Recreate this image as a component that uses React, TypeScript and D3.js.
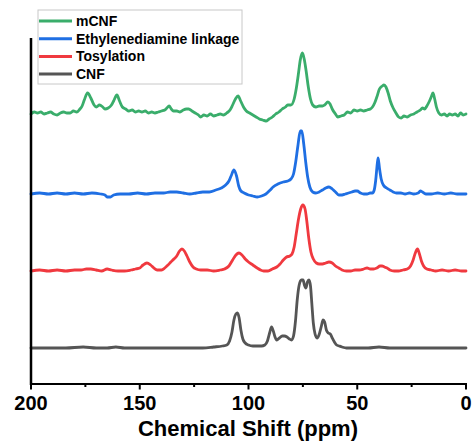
import React from "react";
import * as d3 from "d3";

// Data: [ppm, intensity above own baseline]
const seriesNames = ["mCNF", "Ethylenediamine linkage", "Tosylation", "CNF"];
const seriesColors = ["#3aad6b", "#1f6fe3", "#f0393f", "#555555"];
const seriesOffsets = [233, 154, 77, 0];

const mcnf: [number, number][] = [
  [200, 1], [198.5, 3], [197, 2], [195.5, 3], [194, 1], [192.5, 2], [191, 3], [189.5, 1], [188, 0], [186.5, 2],
  [185, 3], [183.5, 2], [182, 2], [180.5, 4], [179, 3], [177.5, 6], [176.5, 9], [175.5, 15], [174, 22], [172.5, 17],
  [171, 10], [170, 8], [168.5, 10], [167, 8], [166, 6], [164.5, 7], [163, 10], [162, 14], [160.5, 20], [159.3, 14],
  [158, 8], [156.5, 6], [155, 4], [153.5, 5], [152, 3], [150.5, 4], [149, 3], [147.5, 4], [146, 2], [144.5, 3],
  [143, 2], [141.5, 3], [140, 4], [138.5, 5], [137.5, 7], [136.5, 9], [135.5, 6], [134.5, 4], [133, 4], [131.5, 3],
  [130, 5], [128.5, 6], [127.5, 6], [126, 4], [124.5, 2], [123, 0], [122, -2], [120.5, 0], [119, -1], [117.5, 1],
  [116, -1], [114.5, 0], [113, 1], [111.5, 0], [110, 2], [108.5, 5], [107.3, 10], [106, 16], [104.8, 19], [103.6, 14],
  [102.3, 8], [101, 4], [99.5, 2], [98, 0], [96.5, -2], [95, -4], [93.5, -5], [92, -6], [90.5, -4], [89, -2],
  [87.5, 1], [86, 3], [84.5, 6], [83, 8], [82, 10], [80.5, 10], [79, 16], [78, 27], [77, 42], [76.2, 55],
  [75.2, 62], [74.3, 55], [73.5, 44], [72.5, 28], [71.5, 16], [70.5, 10], [69, 8], [67.5, 9], [66, 9], [65, 10],
  [63.5, 13], [62.5, 11], [61.5, 6], [60, 1], [59, -2], [57.5, -1], [56, 0], [54.5, 3], [53, 2], [51.5, 5],
  [50, 4], [48.5, 5], [47, 4], [45.5, 5], [44, 6], [43, 8], [42, 12], [41, 18], [39.8, 26], [38.5, 29],
  [37.7, 30], [36.8, 28], [35.8, 22], [34.8, 14], [33.5, 7], [32.2, 2], [31, -2], [29.8, -3], [28.5, -1], [27, -2],
  [25.5, 0], [24, 1], [22.5, 3], [21, 5], [20, 7], [19, 6], [18, 9], [17, 13], [16, 18], [15.2, 22],
  [14.4, 16], [13.6, 8], [12.5, 2], [11.3, 0], [10, 1], [8.7, -1], [7.5, 1], [6.3, 0], [5, 1], [3.7, -1],
  [2.5, 2], [1.3, 0], [0, 1],
];

const ethylene: [number, number][] = [
  [200, 0], [196, 1], [192, 0], [188, 1], [184, 0], [180, 1], [176, 0], [172, 1], [168, 0], [166, -1],
  [165, -3], [163.5, -3], [162, -1], [159, 0], [155, 0], [151, 1], [147, 0], [143, 1], [139, 1], [136, 2],
  [133, 2], [130, 1], [127, 0], [124, 1], [121, 2], [118, 2], [115, 4], [112.5, 6], [110.5, 9], [109, 13],
  [108, 18], [106.7, 24], [105.5, 18], [104.5, 8], [103.5, 3], [102, 1], [100, -1], [98, -2], [96, -3], [94, -2],
  [92, 0], [90, 4], [88.7, 7], [86.5, 10], [84, 12], [82, 13], [80.5, 15], [79.3, 20], [78.3, 32], [77.3, 48],
  [76.2, 63], [75.5, 63], [74.6, 50], [73.7, 32], [72.8, 17], [71.8, 7], [70.5, 2], [69, 1], [67.5, 2], [66, 4],
  [64.5, 6], [63, 7], [61.5, 5], [60, 2], [58.5, -1], [57, -1], [55.5, 0], [54, 1], [52.5, 2], [51, 3],
  [50, 3], [48.5, 1], [47, 0], [45.5, 0], [44, 1], [43, 1], [42.2, 4], [41.5, 14], [40.8, 30], [40.4, 36],
  [39.8, 26], [39, 15], [38, 9], [36.5, 6], [35, 4], [33.5, 2], [32, 1], [30, 1], [28, 0], [26, 1],
  [24, 0], [22, 1], [21, 3], [20, 2], [18.5, 0], [16, 0], [13, 1], [10, 0], [7, 1], [4, 0], [0, 0],
];

const tosyl: [number, number][] = [
  [200, 0], [196, 1], [192, 0], [188, 1], [184, 0], [180, 1], [177, 1], [174.5, 2], [172.5, 2], [170, 1],
  [167.5, 0], [165, 2], [163, 1], [160, 0], [157, 0], [154, 1], [152, 2], [150, 3], [148.5, 6], [146.7, 8],
  [145, 6], [143.5, 3], [142, 1], [140, 1], [138.5, 3], [137, 6], [135.7, 9], [134.3, 12], [133, 15], [131.7, 20],
  [130.6, 22], [129.5, 20], [128.3, 15], [127, 9], [125.5, 4], [124, 2], [122, 1], [119, 1], [116, 0], [113, 1],
  [111, 2], [109, 5], [107.3, 11], [105.8, 16], [104.4, 18], [103, 16], [101.5, 12], [100, 9], [98, 6], [96, 3],
  [94.5, 1], [93, 0], [91, 0], [89, 2], [87, 4], [85.5, 7], [84, 11], [82.5, 14], [81, 15], [80, 17],
  [79, 24], [78, 38], [77, 52], [76, 62], [75, 66], [74, 62], [73.2, 50], [72.3, 33], [71.3, 19], [70.2, 12],
  [68.8, 8], [67.5, 7], [66, 7], [64.5, 8], [63, 9], [61.5, 8], [60, 5], [58.5, 3], [57, 1], [55, 0],
  [53, 0], [51, 1], [49, 1], [47, 2], [45.5, 3], [44, 2], [42.5, 2], [41, 3], [39.5, 5], [38.6, 5],
  [37.5, 4], [36.3, 3], [35, 1], [33, 0], [31, 0], [29, 1], [27, 2], [25.5, 5], [24.3, 11], [23.3, 18],
  [22.3, 22], [21.4, 17], [20.5, 10], [19.5, 5], [18, 2], [16, 1], [14, 0], [11, 1], [8, 0], [5, 1], [2, 0], [0, 0],
];

const cnf: [number, number][] = [
  [200, 0], [192, 0], [184, 0], [176, 1], [170, 0], [165, 0], [161, 1], [157, 0], [150, 0], [142, 0],
  [135, 0], [128, 0], [121, 0], [116, 1], [112, 2], [110, 3], [108.7, 7], [107.6, 16], [106.7, 28], [105.8, 34],
  [105.1, 35], [104.3, 30], [103.5, 18], [102.6, 9], [101.5, 5], [100, 3], [98, 2], [96, 2], [94, 2], [92.5, 3],
  [91.3, 7], [90.3, 15], [89.4, 21], [88.6, 17], [87.8, 11], [87, 8], [85.8, 10], [84.5, 12], [83.5, 12], [82.3, 11],
  [81.2, 9], [80.2, 8], [79.3, 12], [78.4, 27], [77.6, 48], [76.7, 63], [75.7, 68], [74.9, 68], [74.3, 63], [73.6, 60],
  [72.9, 66], [72.2, 68], [71.5, 62], [70.9, 45], [70.2, 25], [69.4, 14], [68.5, 10], [67.6, 13], [66.6, 21], [65.7, 28],
  [65, 26], [64.2, 18], [63.3, 15], [62.4, 14], [61.5, 10], [60.5, 6], [59.5, 3], [58.3, 2], [57, 1], [55, 0],
  [50, 0], [45, 0], [40, 1], [35, 0], [30, 0], [25, 0], [20, 0], [15, 0], [10, 0], [5, 0], [0, 0],
];

const allSeries = [mcnf, ethylene, tosyl, cnf];
const majorTicks = [200, 150, 100, 50, 0];
const minorTicks = [175, 125, 75, 25];
const xLabel = "Chemical Shift (ppm)";

export default function App() {
  const W = 475;
  const H = 442;
  const x = d3.scaleLinear().domain([200, 0]).range([31, 466]);
  const y = d3.scaleLinear().domain([-36, 310]).range([384, 38]);
  const font = "'Liberation Sans', Arial, sans-serif";

  return (
    <svg
      width={W}
      height={H}
      viewBox={`0 0 ${W} ${H}`}
      style={{ position: "absolute", left: 0, top: 0, background: "#fff" }}
    >
      <rect x={0} y={0} width={W} height={H} fill="#fff" />
      {allSeries.map((data, i) => {
        const line = d3
          .line<[number, number]>()
          .x((d) => x(d[0]))
          .y((d) => y(d[1] + seriesOffsets[i]))
          .curve(d3.curveMonotoneX);
        return (
          <path
            key={i}
            d={line(data) || ""}
            fill="none"
            stroke={seriesColors[i]}
            strokeWidth={2.8}
            strokeLinejoin="round"
            strokeLinecap="round"
          />
        );
      })}
      {/* axes */}
      <line x1={x(200)} x2={x(200)} y1={y(310)} y2={y(-36) + 1} stroke="#000" strokeWidth={2.5} />
      <line x1={x(200) - 1} x2={x(0) + 1} y1={y(-36)} y2={y(-36)} stroke="#000" strokeWidth={2} />
      {majorTicks.map((t) => (
        <line key={"M" + t} x1={x(t)} x2={x(t)} y1={y(-36)} y2={y(-36) + 5.5} stroke="#000" strokeWidth={2} />
      ))}
      {minorTicks.map((t) => (
        <line key={"m" + t} x1={x(t)} x2={x(t)} y1={y(-36)} y2={y(-36) + 3} stroke="#000" strokeWidth={2} />
      ))}
      {majorTicks.map((t) => (
        <text
          key={"L" + t}
          x={x(t)}
          y={410}
          textAnchor="middle"
          fontFamily={font}
          fontWeight="bold"
          fontSize={20}
          fill="#000"
        >
          {t}
        </text>
      ))}
      <text x={248} y={436} textAnchor="middle" fontFamily={font} fontWeight="bold" fontSize={22} fill="#000">
        {xLabel}
      </text>
      {/* legend */}
      <rect x={38} y={10} width={204} height={74} fill="#fff" stroke="#c8c8c8" strokeWidth={1} />
      {seriesNames.map((name, i) => {
        const ly = 21 + i * 17.7;
        return (
          <g key={name}>
            <line x1={39} x2={72} y1={ly} y2={ly} stroke={seriesColors[i]} strokeWidth={3} />
            <text x={76} y={ly + 5} fontFamily={font} fontWeight="bold" fontSize={14} fill="#000">
              {name}
            </text>
          </g>
        );
      })}
    </svg>
  );
}
